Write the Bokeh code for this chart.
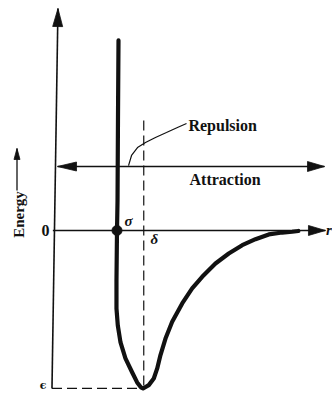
import math
from bokeh.plotting import figure
from bokeh.models import Range1d
from bokeh.core.properties import value
from bokeh.embed import file_html
from bokeh.resources import INLINE

# ---- data (r in units of delta, energy in units of epsilon) ----
curve_r = [0.716, 0.710, 0.705, 0.699, 0.693, 0.693, 0.708, 0.739, 0.795, 0.872, 0.928, 0.970, 0.995,
           1.060, 1.117, 1.156, 1.193, 1.250, 1.326, 1.440, 1.553, 1.667, 1.818, 1.969, 2.122,
           2.273, 2.424, 2.576, 2.690, 2.760]
curve_E = [1.203, 0.696, 0.190, 0.0, -0.316, -0.494, -0.601, -0.709, -0.810, -0.899, -0.962, -0.993, -1.0,
           -0.979, -0.937, -0.873, -0.789, -0.684, -0.578, -0.462, -0.367, -0.293, -0.209, -0.146,
           -0.093, -0.055, -0.025, -0.013, -0.008, -0.003]
sigma = 0.699
delta = 1.003
eps = -1.0
attraction_E = 0.405
dash_top_E = 0.696
leader_r = [0.830, 0.864, 0.932, 1.023, 1.136, 1.261, 1.386, 1.489]
leader_E = [0.411, 0.475, 0.525, 0.557, 0.589, 0.620, 0.652, 0.677]
yaxis_r = [-0.040, 0.028]
yaxis_E = [-1.0, 1.405]
xaxis_r = [-0.03, 3.068]
attr_r = [0.023, 3.057]
energy_arrow_r = -0.4375
energy_arrow_E = [0.253, 0.519]

labels_text = ["Repulsion", "Attraction"]
labels_r = [1.511, 1.523]
labels_E = [0.665, 0.323]

W, H = 332, 393
x0, x1 = -0.625, 3.148
y0, y1 = -1.032, 1.456
SX = W / (x1 - x0)
SY = H / (y1 - y0)

p = figure(width=W, height=H, output_backend="svg", toolbar_location=None,
           x_range=Range1d(x0, x1), y_range=Range1d(y0, y1), min_border=0)
p.axis.visible = False
p.grid.visible = False
p.outline_line_color = None
p.background_fill_color = "white"
p.border_fill_color = "white"

def head(tip_r, tip_e, from_r, from_e, length, width):
    dx = (tip_r - from_r) * SX
    dy = (tip_e - from_e) * SY
    n = math.hypot(dx, dy)
    ux, uy = dx / n, dy / n
    bx, by = -ux * length, -uy * length
    px, py = -uy * width / 2, ux * width / 2
    xs = [tip_r, tip_r + (bx + px) / SX, tip_r + (bx - px) / SX]
    ys = [tip_e, tip_e + (by + py) / SY, tip_e + (by - py) / SY]
    return xs, ys

heads_x, heads_y = [], []
def add_head(*a):
    hx, hy = head(*a)
    heads_x.append(hx)
    heads_y.append(hy)

ink = "#111111"

# y axis (energy)
p.line(yaxis_r, yaxis_E, line_color=ink, line_width=1.6)
add_head(yaxis_r[1], yaxis_E[1], yaxis_r[0], yaxis_E[0], 18, 10)
# zero line
p.line(xaxis_r, [0, 0], line_color=ink, line_width=1.3)
add_head(xaxis_r[1], 0, xaxis_r[0], 0, 17, 10)
# attraction double arrow
p.line(attr_r, [attraction_E, attraction_E], line_color=ink, line_width=1.3)
add_head(attr_r[1], attraction_E, attr_r[0], attraction_E, 17, 10)
add_head(attr_r[0], attraction_E, attr_r[1], attraction_E, 19, 9)
# energy label arrow
p.line([energy_arrow_r, energy_arrow_r], energy_arrow_E, line_color=ink, line_width=1.3)
add_head(energy_arrow_r, energy_arrow_E[1], energy_arrow_r, energy_arrow_E[0], 11, 6)

p.patches(heads_x, heads_y, fill_color=ink, line_color=ink, line_width=0.8)

# dashed guides
p.line([delta, delta], [dash_top_E, eps], line_color=ink, line_width=1.2, line_dash="10 5")
p.line([yaxis_r[0], delta], [eps, eps], line_color=ink, line_width=1.2, line_dash="10 5")

# leader line for Repulsion
p.line(leader_r, leader_E, line_color=ink, line_width=1.2)

# potential curve
p.line(curve_r, curve_E, line_color=ink, line_width=4.2, line_join="round", line_cap="round")
p.scatter([sigma], [0], size=10, color=ink)

serif = value("Liberation Serif")
p.text(labels_r, labels_E, text=labels_text, text_font=serif, text_font_style="bold",
       text_font_size="16px", text_baseline="middle", text_align="left", text_color=ink)
p.text([-0.42], [0.101], text=["Energy"], angle=math.pi / 2, text_font=serif,
       text_font_style="bold", text_font_size="15px", text_baseline="middle",
       text_align="center", text_color=ink)
p.text([-0.114], [0.0], text=["0"], text_font=serif, text_font_style="bold",
       text_font_size="16px", text_baseline="middle", text_align="center", text_color=ink)
p.text([-0.142], [-1.022], text=["ϵ"], text_font=value("DejaVu Serif"), text_font_style="bold",
       text_font_size="11px", text_baseline="bottom", text_align="center", text_color=ink)
p.text([0.784], [0.057], text=["σ"], text_font=serif, text_font_style="bold italic",
       text_font_size="15px", text_baseline="middle", text_align="left", text_color=ink)
p.text([1.08], [-0.051], text=["δ"], text_font=serif, text_font_style="bold italic",
       text_font_size="15px", text_baseline="middle", text_align="left", text_color=ink)
p.text([3.075], [0.0], text=["r"], text_font=serif, text_font_style="bold italic",
       text_font_size="15px", text_baseline="middle", text_align="left", text_color=ink)

open("out.html", "w").write(file_html(p, INLINE))
